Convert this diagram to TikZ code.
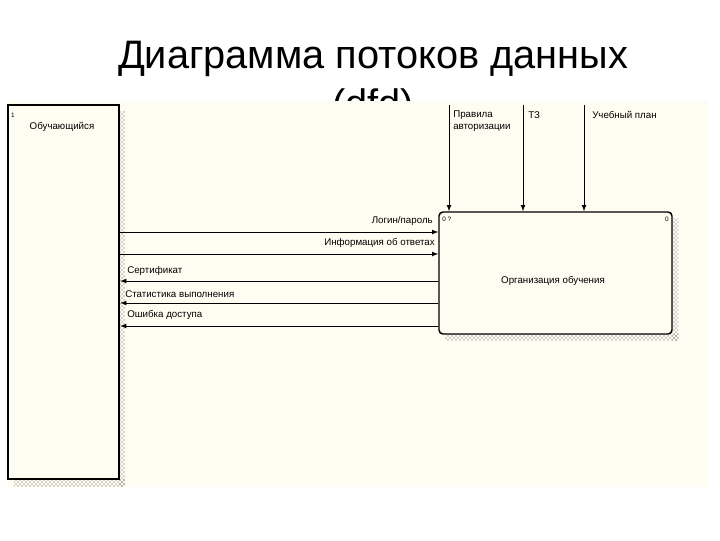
\documentclass[tikz,border=0pt]{standalone}
\usepackage{fontspec}
\setmainfont{Liberation Sans}
\usepackage{tikz}
\usetikzlibrary{arrows}
\usetikzlibrary{patterns}
\usetikzlibrary{positioning}
\usetikzlibrary{calc}
\definecolor{paper}{RGB}{255,252,242}
\tikzset{
  flow/.style={line width=0.6pt,-latex},
  lbl/.style={font=\fontsize{7.3}{8.4}\selectfont,inner sep=0pt},
  tag/.style={font=\fontsize{4.8}{5.5}\selectfont,inner sep=0pt},
  shade/.style={pattern=crosshatch dots,pattern color=black!70,draw=none}
}

\begin{document}
\begin{tikzpicture}[x=0.75pt,y=0.75pt,yscale=-1,xscale=1]
\useasboundingbox (0,0) rectangle (720,540);

% Title
\node (title) [anchor=base] at (373,68) {\fontsize{29.8}{34}\selectfont Диаграмма потоков данных};
\node (title2) [anchor=base] at (373,117) {\fontsize{29.8}{34}\selectfont (dfd)};

% Sheet
\fill[paper] (8,101) rectangle (708,487);

% Shadows
\fill[shade] (119,111) rectangle (125,486);
\fill[shade] (14,479) rectangle (125,486);
\fill[shade] (672,218) rectangle (678,340);
\fill[shade] (445,334) rectangle (678,340);

% External entity
\node (ext) [draw,line width=1.8pt,fill=paper,inner sep=0pt,minimum width=83.25pt,minimum height=280.5pt] at (63.5,292) {};
\node[tag] at (13,115) {1};
\node[lbl] at (62,127) {Обучающийся};

% Process
\node (org) [draw,line width=1.1pt,fill=paper,rounded corners=3pt,inner sep=0pt,minimum width=174.75pt,minimum height=91.5pt] at (555.5,273) {};
\node[tag,anchor=west] at (442,219) {0 ?};
\node[tag] at (667,219) {0};
\node[lbl] at (553,281) {Организация обучения};

% Controls
\coordinate (c1) at (449,105);
\coordinate (c2) at (523,105);
\coordinate (c3) at (584,105);
\draw[flow] (c1) -- (c1 |- org.north);
\draw[flow] (c2) -- (c2 |- org.north);
\draw[flow] (c3) -- (c3 |- org.north);
\node[lbl,anchor=north west,align=left] at (453,111) {Правила\\авторизации};
\node[lbl,anchor=north west] at (528,111) {ТЗ};
\node[lbl,anchor=north west] at (592,111) {Учебный план};

% Inputs
\draw[flow] (ext.east |- 0,232) -- (org.west |- 0,232);
\draw[flow] (ext.east |- 0,254) -- (org.west |- 0,254);
\node[lbl,anchor=south east] at (433,226) {Логин/пароль};
\node[lbl,anchor=south east] at (435,248) {Информация об ответах};

% Outputs
\draw[flow] (org.west |- 0,281) -- (ext.east |- 0,281);
\draw[flow] (org.west |- 0,303) -- (ext.east |- 0,303);
\draw[flow] (org.west |- 0,326) -- (ext.east |- 0,326);
\node[lbl,anchor=south west] at (127,276) {Сертификат};
\node[lbl,anchor=south west] at (125,298) {Статистика выполнения};
\node[lbl,anchor=south west] at (127,320) {Ошибка доступа};

\end{tikzpicture}
\end{document}
